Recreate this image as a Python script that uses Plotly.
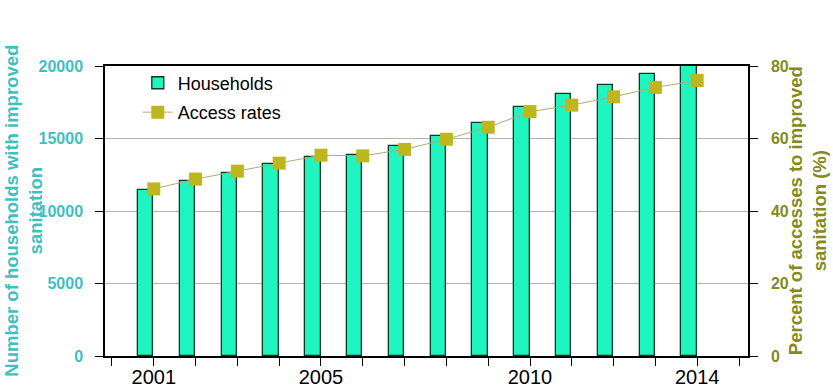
import plotly.graph_objects as go

years = [2001, 2002, 2003, 2004, 2005, 2006, 2007, 2008, 2009, 2010, 2011, 2012, 2013, 2014]
households = [11450, 12070, 12640, 13240, 13750, 13860, 14480, 15170, 16070, 17150, 18070, 18690, 19450, 20000]
access_rates = [46.1, 48.8, 51.0, 53.2, 55.4, 55.2, 57.0, 59.8, 63.1, 67.4, 69.2, 71.5, 74.1, 76.0]
tick_years = list(range(2000, 2016))
tick_labels = {2001: "2001", 2005: "2005", 2010: "2010", 2014: "2014"}

FONT = "Arial, Liberation Sans, sans-serif"
TEAL = "#3FBFBF"
OLIVE = "#838B1C"
BAR = "#1EF5C1"
MARK = "#BDB61E"

fig = go.Figure()
fig.add_trace(go.Bar(
    x=years, y=households, name="Households",
    offset=-0.38, width=0.37,
    marker=dict(color=BAR, line=dict(color="#0A3A20", width=1.3)),
    legendgroup="a",
))
fig.add_trace(go.Scatter(
    x=years, y=access_rates, name="Access rates", yaxis="y2",
    mode="lines+markers",
    line=dict(color="#B0AA78", width=1),
    marker=dict(symbol="square", size=13, color=MARK),
    legendgroup="b",
))

fig.update_layout(
    width=833, height=392,
    margin=dict(l=105, r=85, t=66, b=36, autoexpand=False),
    paper_bgcolor="white", plot_bgcolor="white",
    font=dict(family=FONT, color="black"),
    showlegend=True,
    legend=dict(x=0.051, y=1.005, xanchor="left", yanchor="top",
                font=dict(size=18, color="black"), bgcolor="rgba(0,0,0,0)",
                tracegroupgap=3, traceorder="grouped"),
    xaxis=dict(
        range=[1999.833, 2015.215], automargin=False,
        tickmode="array", tickvals=tick_years,
        ticktext=[tick_labels.get(y, "") for y in tick_years],
        ticks="outside", ticklen=8, tickcolor="black",
        tickfont=dict(size=20, color="black"),
        ticklabelstandoff=-6,
        showline=True, linecolor="black", linewidth=1.5, mirror=True,
        showgrid=False, zeroline=False,
    ),
    yaxis=dict(
        range=[0, 20000], tickvals=[0, 5000, 10000, 15000, 20000],
        ticktext=["0", "5000", "10000", "15000", "20000"],
        automargin=False,
        ticks="outside", ticklen=8, tickcolor="black",
        tickfont=dict(size=16, color=TEAL, weight="bold"),
        ticklabelstandoff=9,
        showline=True, linecolor="black", linewidth=1.5,
        showgrid=True, gridcolor="#B4B4B4", gridwidth=1, zeroline=False,
    ),
    yaxis2=dict(
        range=[0, 80], tickvals=[0, 20, 40, 60, 80],
        overlaying="y", side="right", automargin=False,
        ticks="outside", ticklen=8, tickcolor="black",
        tickfont=dict(size=16, color=OLIVE, weight="bold"),
        ticklabelstandoff=10,
        showline=True, linecolor="black", linewidth=1.5,
        showgrid=False, zeroline=False,
    ),
    bargap=0,
)

fig.add_annotation(
    text="<b>Number of households with improved</b><br><b>sanitation</b>",
    xref="paper", yref="paper", x=-0.128, y=0.5, xanchor="center", yanchor="middle",
    textangle=-90, showarrow=False, font=dict(size=18.5, color=TEAL, family=FONT),
)
fig.add_annotation(
    text="<b>Percent of accesses to improved</b><br><b>sanitation (%)</b>",
    xref="paper", yref="paper", x=1.092, y=0.5, xanchor="center", yanchor="middle",
    textangle=-90, showarrow=False, font=dict(size=18.5, color=OLIVE, family=FONT),
)

fig.write_html("out.html", post_script="document.body.style.margin='0';",
               config={"displayModeBar": False})
